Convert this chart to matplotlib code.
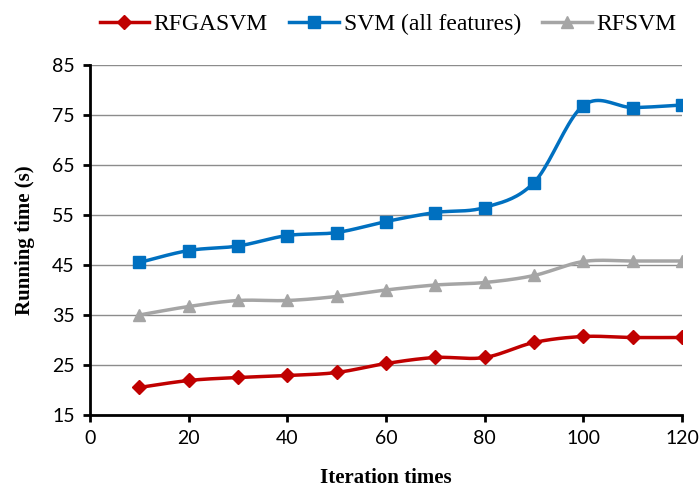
import numpy as np
import matplotlib.pyplot as plt

# data
iterations = [10, 20, 30, 40, 50, 60, 70, 80, 90, 100, 110, 120]
rfgasvm = [20.5, 21.9, 22.5, 22.9, 23.5, 25.3, 26.5, 26.5, 29.5, 30.7, 30.5, 30.5]
svm_all = [45.5, 47.9, 48.8, 50.9, 51.5, 53.7, 55.5, 56.5, 61.5, 76.9, 76.5, 77.0]
rfsvm = [35.0, 36.7, 37.9, 37.9, 38.7, 40.0, 41.0, 41.5, 42.9, 45.7, 45.8, 45.8]

series = [
    ("RFGASVM", rfgasvm, "#C00000", "D", 7),
    ("SVM (all features)", svm_all, "#0070C0", "s", 8.5),
    ("RFSVM", rfsvm, "#A5A5A5", "^", 8.5),
]


def smooth(x, y, n=20):
    # Excel-like smoothed line (Catmull-Rom through the points)
    x = np.asarray(x, float)
    y = np.asarray(y, float)
    px = np.concatenate([[x[0]], x, [x[-1]]])
    py = np.concatenate([[y[0]], y, [y[-1]]])
    xs, ys = [], []
    t = np.linspace(0, 1, n, endpoint=False)
    for i in range(1, len(px) - 2):
        p0, p1, p2, p3 = px[i - 1], px[i], px[i + 1], px[i + 2]
        q0, q1, q2, q3 = py[i - 1], py[i], py[i + 1], py[i + 2]
        # bezier control points
        c1x, c1y = p1 + (p2 - p0) / 6, q1 + (q2 - q0) / 6
        c2x, c2y = p2 - (p3 - p1) / 6, q2 - (q3 - q1) / 6
        b = [(1 - t) ** 3, 3 * (1 - t) ** 2 * t, 3 * (1 - t) * t ** 2, t ** 3]
        xs.append(b[0] * p1 + b[1] * c1x + b[2] * c2x + b[3] * p2)
        ys.append(b[0] * q1 + b[1] * c1y + b[2] * c2y + b[3] * q2)
    xs.append([x[-1]])
    ys.append([y[-1]])
    return np.concatenate(xs), np.concatenate(ys)


fig = plt.figure(figsize=(6.99, 4.91), dpi=100)
ax = fig.add_axes([0.1288, 0.1548, 0.9757 - 0.1288, 0.8676 - 0.1548])

handles = []
for name, vals, col, mk, ms in series:
    sx, sy = smooth(iterations, vals)
    ax.plot(sx, sy, color=col, lw=2.5, solid_capstyle="round", zorder=3)
    ax.plot(iterations, vals, ls="none", marker=mk, color=col, ms=ms, zorder=4)
    h, = ax.plot([], [], color=col, lw=2.5, marker=mk, ms=ms, label=name)
    handles.append(h)

ax.set_xlim(0, 120)
ax.set_ylim(15, 85)
ax.set_xticks(range(0, 121, 20))
ax.set_yticks(range(15, 86, 10))
ax.yaxis.grid(True, color="#8c8c8c", lw=1)
ax.set_axisbelow(True)
for s in ["top", "right"]:
    ax.spines[s].set_visible(False)
for s in ["left", "bottom"]:
    ax.spines[s].set_linewidth(2)
ax.tick_params(width=2, length=5, direction="out", labelsize=14, pad=6)
for lab in ax.get_xticklabels() + ax.get_yticklabels():
    lab.set_fontfamily("Lato")

ax.set_xlabel("Iteration times", fontfamily="Liberation Serif", fontweight="bold",
              fontsize=15, labelpad=15)
ax.set_ylabel("Running time (s)", fontfamily="Liberation Serif", fontweight="bold",
              fontsize=15, labelpad=12)

fig.legend(handles=handles, loc="upper center", bbox_to_anchor=(0.555, 1.015), ncol=3,
           frameon=False, prop={"family": "Liberation Serif", "size": 17},
           handlelength=2.1, columnspacing=0.9, handletextpad=0.2)

fig.savefig("out.png", dpi=100)
